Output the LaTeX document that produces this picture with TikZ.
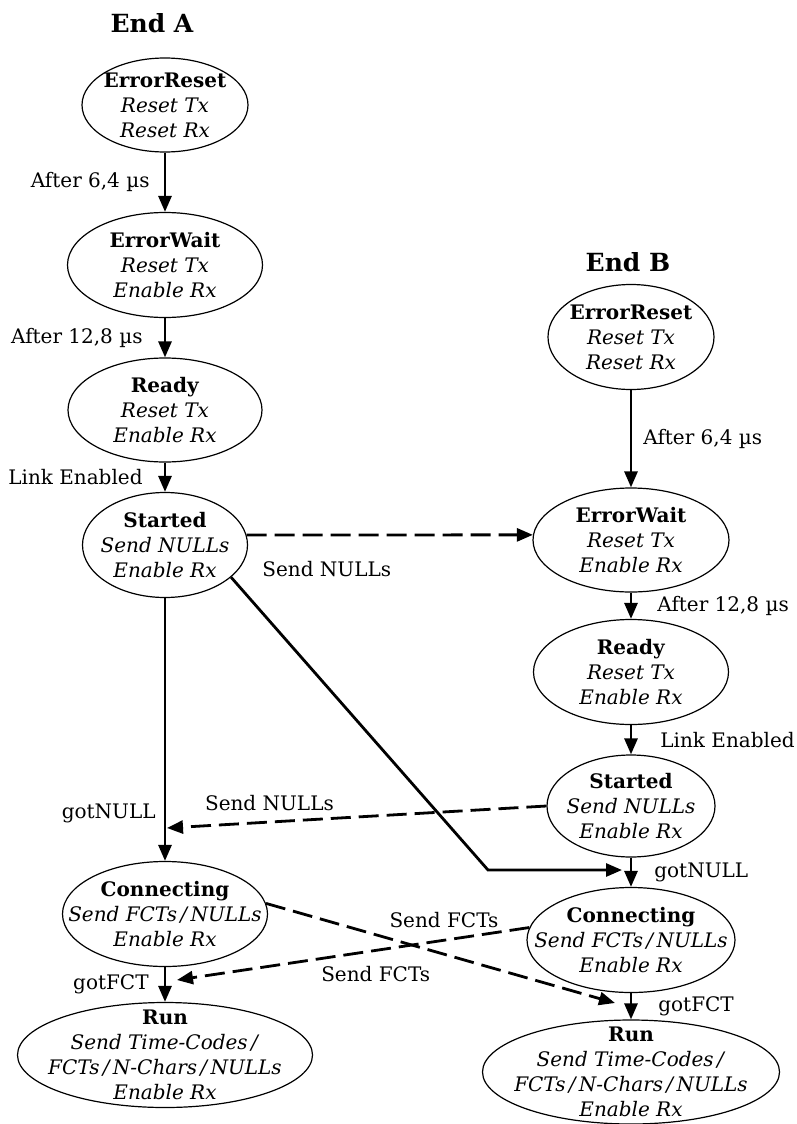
\documentclass[tikz,border=0pt]{standalone}
\usepackage{fontspec}
\setmainfont{DejaVu Serif}
\usetikzlibrary{shapes.geometric, positioning, arrows.meta}

\begin{document}
\begin{tikzpicture}[x=0.5pt, y=-0.5pt, ->, >={Triangle[length=8pt, width=6.5pt]}, line width=1.4pt,
    mode/.style={draw, ellipse, inner sep=0pt, line width=0.6pt},
    every label/.style={align=center, inner sep=0pt, font=\fontsize{10}{12.5}\selectfont},
    lbl/.style={inner sep=0pt, font=\fontsize{10}{12}\selectfont},
    msg/.style={dash pattern=on 10pt off 4pt},
    title/.style={font=\bfseries\fontsize{12.5}{15}\selectfont}]
    \useasboundingbox (0,0) rectangle (797,1124);

    % End A
    \node[title] (titleA) at (152,23) {End A};
    \node[mode, minimum width=83pt, minimum height=47pt,
        label={center:{\textbf{ErrorReset}\\\textit{Reset Tx}\\\textit{Reset Rx}}}] (AER) at (165,105) {};
    \node[mode, minimum width=97.5pt, minimum height=52.5pt,
        label={center:{\textbf{ErrorWait}\\\textit{Reset Tx}\\\textit{Enable Rx}}}] (AEW) at (165,265) {};
    \node[mode, minimum width=97pt, minimum height=52pt,
        label={center:{\textbf{Ready}\\\textit{Reset Tx}\\\textit{Enable Rx}}}] (ARD) at (165,410) {};
    \node[mode, minimum width=82.5pt, minimum height=52.5pt,
        label={center:{\textbf{Started}\\\textit{Send NULLs}\\\textit{Enable Rx}}}] (AST) at (165,545) {};
    \node[mode, minimum width=102.5pt, minimum height=52.5pt,
        label={center:{\textbf{Connecting}\\\textit{Send FCTs\,/\,NULLs}\\\textit{Enable Rx}}}] (ACN) at (165,914) {};
    \node[mode, minimum width=147.5pt, minimum height=52.5pt,
        label={center:{\textbf{Run}\\\textit{Send Time-Codes\,/}\\\textit{FCTs\,/\,N-Chars\,/\,NULLs}\\\textit{Enable Rx}}}] (ARN) at (165,1055) {};

    % End B
    \node[title] (titleB) at (628,262) {End B};
    \node[mode, minimum width=83pt, minimum height=52.5pt,
        label={center:{\textbf{ErrorReset}\\\textit{Reset Tx}\\\textit{Reset Rx}}}] (BER) at (631,337) {};
    \node[mode, minimum width=98pt, minimum height=52pt,
        label={center:{\textbf{ErrorWait}\\\textit{Reset Tx}\\\textit{Enable Rx}}}] (BEW) at (631,540) {};
    \node[mode, minimum width=97.5pt, minimum height=52.5pt,
        label={center:{\textbf{Ready}\\\textit{Reset Tx}\\\textit{Enable Rx}}}] (BRD) at (631,672) {};
    \node[mode, minimum width=84pt, minimum height=51pt,
        label={center:{\textbf{Started}\\\textit{Send NULLs}\\\textit{Enable Rx}}}] (BST) at (631,806) {};
    \node[mode, minimum width=104pt, minimum height=52.5pt,
        label={center:{\textbf{Connecting}\\\textit{Send FCTs\,/\,NULLs}\\\textit{Enable Rx}}}] (BCN) at (631,940) {};
    \node[mode, minimum width=148.5pt, minimum height=52pt,
        label={center:{\textbf{Run}\\\textit{Send Time-Codes\,/}\\\textit{FCTs\,/\,N-Chars\,/\,NULLs}\\\textit{Enable Rx}}}] (BRN) at (631,1072) {};

    \coordinate (nullA) at (167,828);
    \coordinate (fctA) at (177,980);
    \coordinate (bendB) at (488,870);
    \coordinate (nullB) at (622,870);
    \coordinate (fctB) at (615,1003);

    % state changes
    \draw (AER) -- node[lbl, left=7pt] {After 6,4 µs} (AEW);
    \draw (AEW) -- node[lbl, left=10.5pt] {After 12,8 µs} (ARD);
    \draw (ARD) -- node[lbl, left=10.5pt] {Link Enabled} (AST);
    \draw (AST) -- node[lbl, pos=0.82, left=4pt] {gotNULL} (ACN);
    \draw (ACN) -- node[lbl, left=7.5pt] {gotFCT} (ARN);
    \draw (BER) -- node[lbl, right=5.5pt] {After 6,4 µs} (BEW);
    \draw (BEW) -- node[lbl, right=12.5pt] {After 12,8 µs} (BRD);
    \draw (BRD) -- node[lbl, right=14pt] {Link Enabled} (BST);
    \draw (BST) -- node[lbl, right=11pt] {gotNULL} (BCN);
    \draw (BCN) -- node[lbl, right=13pt] {gotFCT} (BRN);

    % messages between the ends
    \draw[msg] (AST.7) -- node[lbl, pos=0.28, yshift=-17pt] {Send NULLs} (BEW.177);
    \draw (AST.-26) -- (bendB) -- (nullB);
    \draw[msg] (BST.west) -- node[lbl, pos=0.73, yshift=9.5pt] {Send NULLs} (nullA);
    \draw[msg] (ACN.6) -- node[lbl, pos=0.51, yshift=17pt] {Send FCTs} (fctB);
    \draw[msg] (BCN.173) -- node[lbl, pos=0.436, yshift=-12pt] {Send FCTs} (fctA);
\end{tikzpicture}
\end{document}
